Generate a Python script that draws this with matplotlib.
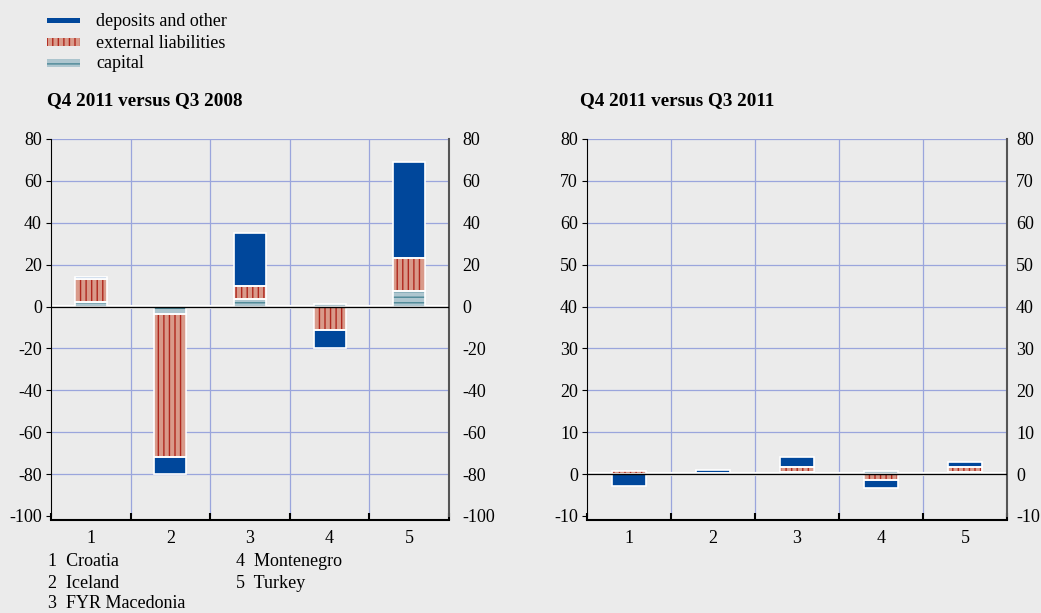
import numpy as np
import matplotlib
matplotlib.use('Agg')
import matplotlib.pyplot as plt
from matplotlib.patches import Rectangle

plt.rcParams['font.family'] = ['Liberation Serif', 'DejaVu Serif']
plt.rcParams['font.size'] = 13
plt.rcParams['hatch.linewidth'] = 1.0

# data (percentage points)
categories = [1, 2, 3, 4, 5]
countries = ['Croatia', 'Iceland', 'FYR Macedonia', 'Montenegro', 'Turkey']
series_names = ['deposits and other', 'external liabilities', 'capital']

# Q4 2011 versus Q3 2008
capital_l = [2.0, -3.5, 3.7, 1.3, 7.2]
external_l = [11.2, -68.5, 6.0, -11.0, 15.8]
deposits_l = [0.8, -8.0, 25.2, -9.0, 46.2]

# Q4 2011 versus Q3 2011
capital_r = [0.0, 0.1, 0.6, 0.7, 0.4]
external_r = [0.8, 0.1, 1.1, -1.4, 1.2]
deposits_r = [-2.9, 0.8, 2.3, -1.8, 1.2]

bg = '#ebebeb'
grid_c = '#9aa5dc'
blue = '#00479b'
ext_face, ext_hatch = '#d99a8a', '#b0281e'
cap_face, cap_hatch = '#aec6cf', '#4b8796'

styles = [
    dict(face=blue, hatch=None, hc=blue),
    dict(face=ext_face, hatch='|||', hc=ext_hatch),
    dict(face=cap_face, hatch='---', hc=cap_hatch),
]

fig = plt.figure(figsize=(10.41, 6.13), dpi=100, facecolor=bg)
W, H = 1041, 613


def add_ax(x0, x1, y0, y1):
    return fig.add_axes([x0 / W, 1 - y1 / H, (x1 - x0) / W, (y1 - y0) / H])


def draw_bars(ax, vals):
    # vals in stacking order: capital, external, deposits
    x = np.array(categories, dtype=float)
    pos = np.zeros(len(x))
    neg = np.zeros(len(x))
    order = [(vals[0], styles[2]), (vals[1], styles[1]), (vals[2], styles[0])]
    for v, st in order:
        v = np.array(v, dtype=float)
        base = np.where(v >= 0, pos, neg)
        ax.bar(x, v, width=0.4, bottom=base, color=st['face'], hatch=st['hatch'],
               edgecolor=st['hc'], linewidth=0, zorder=3)
        ax.bar(x, v, width=0.4, bottom=base, color='none', edgecolor='white',
               linewidth=1.2, zorder=4)
        pos = np.where(v >= 0, pos + v, pos)
        neg = np.where(v < 0, neg + v, neg)


def style_ax(ax, ylo, yhi, step, rpad):
    ax.set_facecolor(bg)
    ax.set_xlim(0.5, 5.5)
    ax.set_ylim(ylo, yhi)
    yt = np.arange(ylo, yhi + 1, step)
    ax.set_yticks(yt)
    ax.set_yticklabels([str(int(t)) for t in yt])
    ax.tick_params(axis='y', left=False, right=False, labelleft=True,
                   labelright=False, labelsize=13, pad=3)
    # right-hand scale with its own spacing
    tw = ax.twinx()
    tw.set_ylim(ylo, yhi)
    tw.set_yticks(yt)
    tw.set_yticklabels([str(int(t)) for t in yt])
    tw.tick_params(axis='y', right=False, labelsize=13, pad=rpad)
    for s in tw.spines.values():
        s.set_visible(False)
    ax.set_xticks([0.5, 1.5, 2.5, 3.5, 4.5, 5.5])
    ax.set_xticklabels([])
    ax.set_xticks(categories, minor=True)
    ax.set_xticklabels([str(c) for c in categories], minor=True)
    ax.tick_params(axis='x', which='major', direction='in', length=5, width=1.5)
    ax.tick_params(axis='x', which='minor', length=0, pad=7, labelsize=13)
    for g in yt[1:]:
        ax.axhline(g, xmax=0.995, color=grid_c, lw=0.9, zorder=1)
    for g in [1.5, 2.5, 3.5, 4.5]:
        ax.axvline(g, color=grid_c, lw=0.9, zorder=1)
    ax.spines['top'].set_visible(False)
    ax.spines['left'].set_color('black')
    ax.spines['right'].set_color('#555555')
    ax.spines['right'].set_linewidth(1.5)
    ax.spines['bottom'].set_position(('outward', 3))
    ax.spines['bottom'].set_linewidth(1.5)
    ax.axhline(0, color='white', lw=3, zorder=2)
    ax.axhline(0, color='black', lw=1, zorder=5)


ax1 = add_ax(51, 449, 139, 516)
style_ax(ax1, -100, 80, 20, 6)
draw_bars(ax1, [capital_l, external_l, deposits_l])

ax2 = add_ax(587, 1007, 139, 516)
style_ax(ax2, -10, 80, 10, 3)
draw_bars(ax2, [capital_r, external_r, deposits_r])

fig.text(47 / W, 1 - 101 / H, 'Q4 2011 versus Q3 2008', fontsize=13.8,
         fontweight='bold', va='center', ha='left')
fig.text(580 / W, 1 - 101 / H, 'Q4 2011 versus Q3 2011', fontsize=13.8,
         fontweight='bold', va='center', ha='left')

# legend
leg_y = [20, 42, 63]
for name, st, y in zip(series_names, styles, leg_y):
    hh = 5 if st['hatch'] is None else 7
    r = Rectangle((47 / W, 1 - (y + hh / 2) / H), 33 / W, hh / H,
                  transform=fig.transFigure, facecolor=st['face'],
                  edgecolor=st['hc'], hatch=st['hatch'], linewidth=0)
    fig.patches.append(r)
    fig.text(96 / W, 1 - (y + 1) / H, name, fontsize=13, va='center', ha='left')

# country key
key_pos = [(48, 562), (48, 583), (48, 604), (236, 562), (236, 583)]
for c, name, (x, y) in zip(categories, countries, key_pos):
    fig.text(x / W, 1 - y / H, f'{c}  {name}', fontsize=13, va='center', ha='left')

fig.savefig('out.png', dpi=100, facecolor=bg)
